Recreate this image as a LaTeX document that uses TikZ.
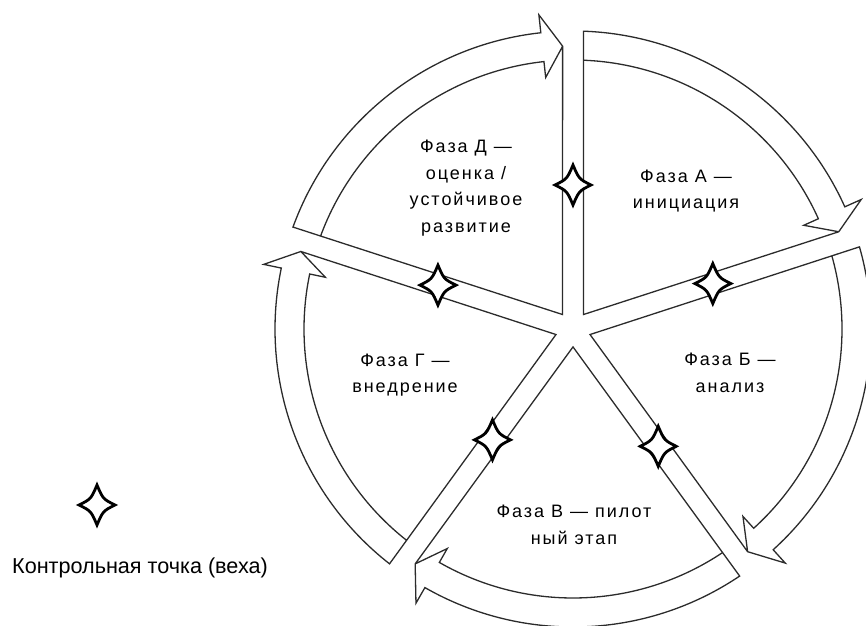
\documentclass[tikz,border=0pt]{standalone}
\usepackage{fontspec}
\setmainfont{Liberation Sans}
\newfontfamily\phasefont[LetterSpace=11]{Liberation Sans}
\definecolor{linegray}{HTML}{2B2B2B}

\begin{document}
\begin{tikzpicture}[
  x=1pt, y=1pt,
  band/.style={draw=linegray, line width=1.3pt, line join=miter},
  phase/.style={align=center, inner sep=0pt, font=\fontsize{18}{26.5}\selectfont\phasefont},
  milestone/.pic={\draw[line width=2.8pt, fill=white, line join=miter]
    (0,20) .. controls (6,6) .. (18,0) .. controls (6,-6) .. (0,-20)
    .. controls (-6,-6) .. (-18,0) .. controls (-6,6) .. cycle;}
]
\useasboundingbox (0,0) rectangle (866,625);

% Phase sectors, each closed by a clockwise arrow band
\begin{scope}[shift={(573,296)}]
\foreach \s/\e in {90/18, 18/-54, -54/-126, -126/-198, 162/90} {
  \draw[band] ({\e+2.1}:283pt) -- ({\s-36}:17.9pt) -- ({\s-2}:298pt)
    arc[start angle={\s-2}, end angle={\e+6.2}, radius=298pt]
    -- ({\e+6.2}:316pt) -- ({\e+2.1}:283pt) -- ({\e+6.2}:253pt) -- ({\e+6.2}:269pt)
    arc[start angle={\e+6.2}, end angle={\s-2.2}, radius=269pt];
}

% Milestones between the phases
\foreach \a/\r in {90/144, 18/147, -54/145, -126/137, 162/142}
  \pic at (\a:\r pt) {milestone};
\end{scope}

% Phase labels
\node[phase] (phaseD) at (466,437) {Фаза Д —\\оценка /\\устойчивое\\развитие};
\node[phase] (phaseA) at (686,434) {Фаза А —\\инициация};
\node[phase] (phaseB) at (730,252) {Фаза Б —\\анализ};
\node[phase] (phaseV) at (574,100) {Фаза В — пилот\\ный этап};
\node[phase] (phaseG) at (405,250) {Фаза Г —\\внедрение};

% Legend
\pic at (97,120) {milestone};
\node[anchor=base west, inner sep=0pt, font=\fontsize{21.6}{25}\selectfont] (legend) at (12,52) {Контрольная точка (веха)};

\end{tikzpicture}
\end{document}
